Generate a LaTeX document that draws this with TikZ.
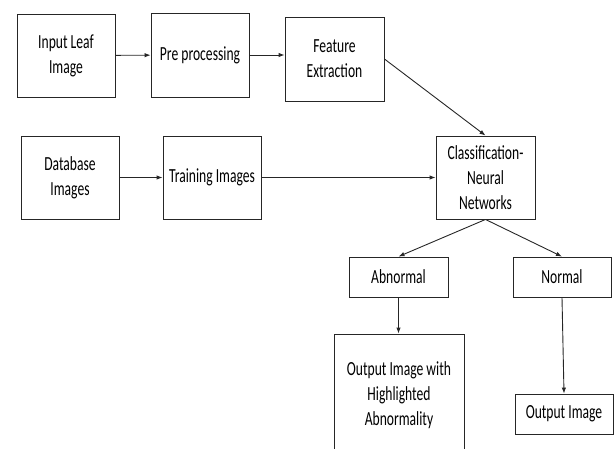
\documentclass[tikz,border=0pt]{standalone}
\usepackage{fontspec}
\setmainfont[FakeStretch=0.68]{Carlito}
\usetikzlibrary{arrows.meta}
\begin{document}
\begin{tikzpicture}[x=1pt,y=-1pt,
  blk/.style={draw=black!85, line width=0.9pt, align=center, inner sep=0pt,
    font=\fontsize{20}{25}\selectfont},
  arr/.style={-{Latex[length=6pt,width=4.5pt]}, line width=0.9pt, draw=black!85}]
\useasboundingbox (0,0) rectangle (616,448);
\node[blk, minimum width=98pt, minimum height=83pt] (input) at (66,55.5) {Input Leaf\\Image};
\node[blk, minimum width=98pt, minimum height=84pt] (pre) at (200,55) {Pre processing};
\node[blk, minimum width=99pt, minimum height=84pt] (feat) at (334.5,59) {Feature\\Extraction};
\node[blk, minimum width=99pt, minimum height=83pt] (class) at (485.5,177.5) {Classification-\\Neural\\Networks};
\node[blk, minimum width=98pt, minimum height=83pt] (db) at (70,177.5) {Database\\Images};
\node[blk, minimum width=98pt, minimum height=83pt] (train) at (212,177.5) {Training Images};
\node[blk, minimum width=99pt, minimum height=40pt] (abn) at (398.5,277) {Abnormal};
\node[blk, minimum width=98pt, minimum height=40pt] (norm) at (562,277) {Normal};
\node[blk, minimum width=130pt, minimum height=122pt] (outa) at (399,395) {Output Image with\\Highlighted\\Abnormality};
\node[blk, minimum width=98pt, minimum height=40pt] (outn) at (564,414) {Output Image};
\draw[arr] (input) -- (pre);
\draw[arr] (pre.east) -- (pre.east -| feat.west);
\draw[arr] (feat.east) -- (class.north);
\draw[arr] (db) -- (train);
\draw[arr] (train) -- (class);
\draw[arr] (class.south) -- (abn.north);
\draw[arr] (class.south) -- (norm.north);
\draw[arr] (abn.south) -- (abn.south |- outa.north);
\draw[arr] (norm.south) -- (outn.north);
\end{tikzpicture}
\end{document}
